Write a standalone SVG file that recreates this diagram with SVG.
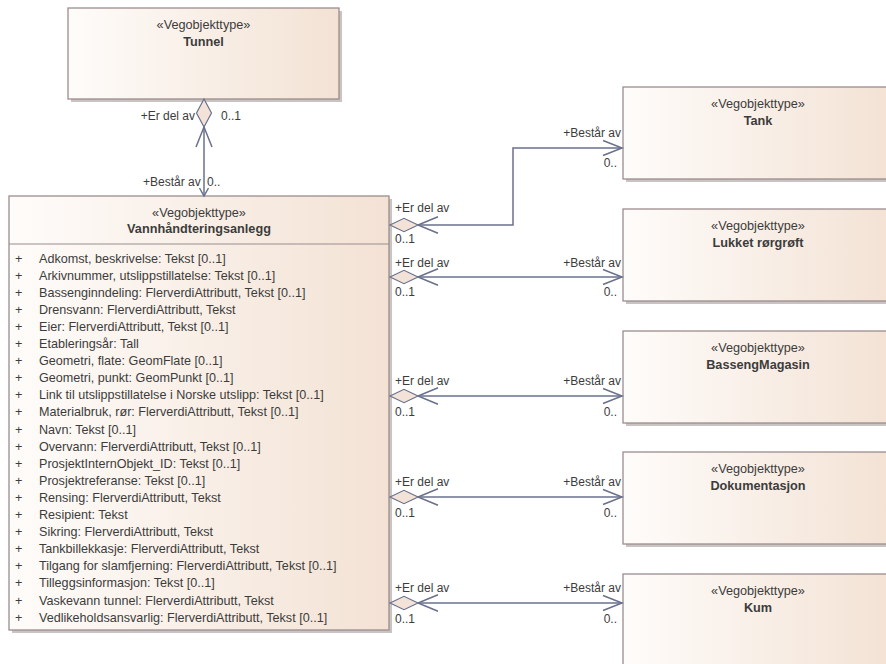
<svg xmlns="http://www.w3.org/2000/svg" width="886" height="664" viewBox="0 0 886 664">
<style>
text{font-family:"Liberation Sans",Arial,sans-serif;font-size:12px;fill:#3c3c3c}
.st{text-anchor:middle;font-size:12.7px}
.nm{text-anchor:middle;font-weight:bold;font-size:12.7px}
.at text{font-size:12.6px}
.box{fill:url(#g);stroke:#9c8c8e;stroke-width:1.3}
.sh{fill:#c8c4c4}
.ln{fill:none;stroke:#69708c;stroke-width:1.5}
.dm{fill:#f3e2d8;stroke:#69708c;stroke-width:1.2}
.e{text-anchor:end}
</style>
<defs>
<linearGradient id="g" x1="0" y1="0" x2="1" y2="0">
<stop offset="0" stop-color="#fefcfa"/>
<stop offset="1" stop-color="#f3e2d4"/>
</linearGradient>
</defs>
<rect width="886" height="664" fill="#ffffff"/>

<g id="tunnel">
<rect class="sh" x="71" y="11" width="271" height="91"/>
<rect class="box" x="68" y="8" width="271" height="91"/>
<text class="st" x="203.5" y="29">«Vegobjekttype»</text>
<text class="nm" x="203.5" y="46">Tunnel</text>
</g>

<g id="vannhandteringsanlegg">
<rect class="sh" x="12" y="199" width="380" height="434"/>
<rect class="box" x="9" y="196" width="380" height="434"/>
<line x1="9" y1="244" x2="389" y2="244" stroke="#9c8c8e" stroke-width="1.2"/>
<text class="st" x="199" y="217">«Vegobjekttype»</text>
<text class="nm" x="199" y="233">Vannhåndteringsanlegg</text>
<g class="at">
<text x="15" y="262.5">+</text><text x="39" y="262.5">Adkomst, beskrivelse: Tekst [0..1]</text>
<text x="15" y="279.6">+</text><text x="39" y="279.6">Arkivnummer, utslippstillatelse: Tekst [0..1]</text>
<text x="15" y="296.7">+</text><text x="39" y="296.7">Bassenginndeling: FlerverdiAttributt, Tekst [0..1]</text>
<text x="15" y="313.8">+</text><text x="39" y="313.8">Drensvann: FlerverdiAttributt, Tekst</text>
<text x="15" y="330.9">+</text><text x="39" y="330.9">Eier: FlerverdiAttributt, Tekst [0..1]</text>
<text x="15" y="348">+</text><text x="39" y="348">Etableringsår: Tall</text>
<text x="15" y="365.1">+</text><text x="39" y="365.1">Geometri, flate: GeomFlate [0..1]</text>
<text x="15" y="382.2">+</text><text x="39" y="382.2">Geometri, punkt: GeomPunkt [0..1]</text>
<text x="15" y="399.3">+</text><text x="39" y="399.3">Link til utslippstillatelse i Norske utslipp: Tekst [0..1]</text>
<text x="15" y="416.4">+</text><text x="39" y="416.4">Materialbruk, rør: FlerverdiAttributt, Tekst [0..1]</text>
<text x="15" y="433.5">+</text><text x="39" y="433.5">Navn: Tekst [0..1]</text>
<text x="15" y="450.6">+</text><text x="39" y="450.6">Overvann: FlerverdiAttributt, Tekst [0..1]</text>
<text x="15" y="467.7">+</text><text x="39" y="467.7">ProsjektInternObjekt_ID: Tekst [0..1]</text>
<text x="15" y="484.8">+</text><text x="39" y="484.8">Prosjektreferanse: Tekst [0..1]</text>
<text x="15" y="501.9">+</text><text x="39" y="501.9">Rensing: FlerverdiAttributt, Tekst</text>
<text x="15" y="519">+</text><text x="39" y="519">Resipient: Tekst</text>
<text x="15" y="536.1">+</text><text x="39" y="536.1">Sikring: FlerverdiAttributt, Tekst</text>
<text x="15" y="553.2">+</text><text x="39" y="553.2">Tankbillekkasje: FlerverdiAttributt, Tekst</text>
<text x="15" y="570.3">+</text><text x="39" y="570.3">Tilgang for slamfjerning: FlerverdiAttributt, Tekst [0..1]</text>
<text x="15" y="587.4">+</text><text x="39" y="587.4">Tilleggsinformasjon: Tekst [0..1]</text>
<text x="15" y="604.5">+</text><text x="39" y="604.5">Vaskevann tunnel: FlerverdiAttributt, Tekst</text>
<text x="15" y="621.6">+</text><text x="39" y="621.6">Vedlikeholdsansvarlig: FlerverdiAttributt, Tekst [0..1]</text>
</g>
</g>

<g id="tank">
<rect class="sh" x="626" y="90" width="270" height="92"/>
<rect class="box" x="623" y="87" width="270" height="92"/>
<text class="st" x="758" y="108">«Vegobjekttype»</text>
<text class="nm" x="758" y="125">Tank</text>
</g>
<g id="lukket-rorgroft">
<rect class="sh" x="626" y="212" width="270" height="92"/>
<rect class="box" x="623" y="209" width="270" height="92"/>
<text class="st" x="758" y="230">«Vegobjekttype»</text>
<text class="nm" x="758" y="247">Lukket rørgrøft</text>
</g>
<g id="bassengmagasin">
<rect class="sh" x="626" y="334" width="270" height="92"/>
<rect class="box" x="623" y="331" width="270" height="92"/>
<text class="st" x="758" y="352">«Vegobjekttype»</text>
<text class="nm" x="758" y="369">BassengMagasin</text>
</g>
<g id="dokumentasjon">
<rect class="sh" x="626" y="455" width="270" height="92"/>
<rect class="box" x="623" y="452" width="270" height="92"/>
<text class="st" x="758" y="473">«Vegobjekttype»</text>
<text class="nm" x="758" y="490">Dokumentasjon</text>
</g>
<g id="kum">
<rect class="sh" x="626" y="577" width="270" height="92"/>
<rect class="box" x="623" y="574" width="270" height="92"/>
<text class="st" x="758" y="595">«Vegobjekttype»</text>
<text class="nm" x="758" y="612">Kum</text>
</g>

<g id="connectors">
<!-- Tunnel -->
<line class="ln" x1="204" y1="127" x2="204" y2="196"/>
<polyline class="ln" points="196,147 204,127 212,147"/>
<polygon class="dm" points="204,99 211.5,113 204,127 196.5,113"/>
<polyline class="ln" points="199.5,188 204,196 208.5,188"/>
<text class="e" x="195" y="120">+Er del av</text>
<text x="221" y="120">0..1</text>
<text x="143" y="186">+Består av</text>
<text x="207" y="186">0..</text>

<!-- Tank -->
<polyline class="ln" points="418,225 513,225 513,148 622,148"/>
<polyline class="ln" points="438,216.7 418,225 438,233.3"/>
<polygon class="dm" points="390,225 404,218.3 418,225 404,231.7"/>
<polyline class="ln" points="603,140.5 622,148 603,155.5"/>
<text x="395" y="212">+Er del av</text>
<text x="395" y="243">0..1</text>
<text class="e" x="621" y="137">+Består av</text>
<text class="e" x="617" y="167">0..</text>

<!-- Lukket -->
<line class="ln" x1="418" y1="277" x2="622" y2="277"/>
<polyline class="ln" points="438,268.7 418,277 438,285.3"/>
<polygon class="dm" points="390,277 404,270.3 418,277 404,283.7"/>
<polyline class="ln" points="603,269.5 622,277 603,284.5"/>
<text x="395" y="267">+Er del av</text>
<text x="395" y="296">0..1</text>
<text class="e" x="621" y="267">+Består av</text>
<text class="e" x="617" y="296">0..</text>

<!-- Basseng -->
<line class="ln" x1="418" y1="396" x2="622" y2="396"/>
<polyline class="ln" points="438,387.7 418,396 438,404.3"/>
<polygon class="dm" points="390,396 404,389.3 418,396 404,402.7"/>
<polyline class="ln" points="603,388.5 622,396 603,403.5"/>
<text x="395" y="385">+Er del av</text>
<text x="395" y="416">0..1</text>
<text class="e" x="621" y="385">+Består av</text>
<text class="e" x="617" y="416">0..</text>

<!-- Dokumentasjon -->
<line class="ln" x1="418" y1="497" x2="622" y2="497"/>
<polyline class="ln" points="438,488.7 418,497 438,505.3"/>
<polygon class="dm" points="390,497 404,490.3 418,497 404,503.7"/>
<polyline class="ln" points="603,489.5 622,497 603,504.5"/>
<text x="395" y="486">+Er del av</text>
<text x="395" y="517">0..1</text>
<text class="e" x="621" y="486">+Består av</text>
<text class="e" x="617" y="517">0..</text>

<!-- Kum -->
<line class="ln" x1="418" y1="603" x2="622" y2="603"/>
<polyline class="ln" points="438,594.7 418,603 438,611.3"/>
<polygon class="dm" points="390,603 404,596.3 418,603 404,609.7"/>
<polyline class="ln" points="603,595.5 622,603 603,610.5"/>
<text x="395" y="592">+Er del av</text>
<text x="395" y="623">0..1</text>
<text class="e" x="621" y="592">+Består av</text>
<text class="e" x="617" y="623">0..</text>
</g>
</svg>
